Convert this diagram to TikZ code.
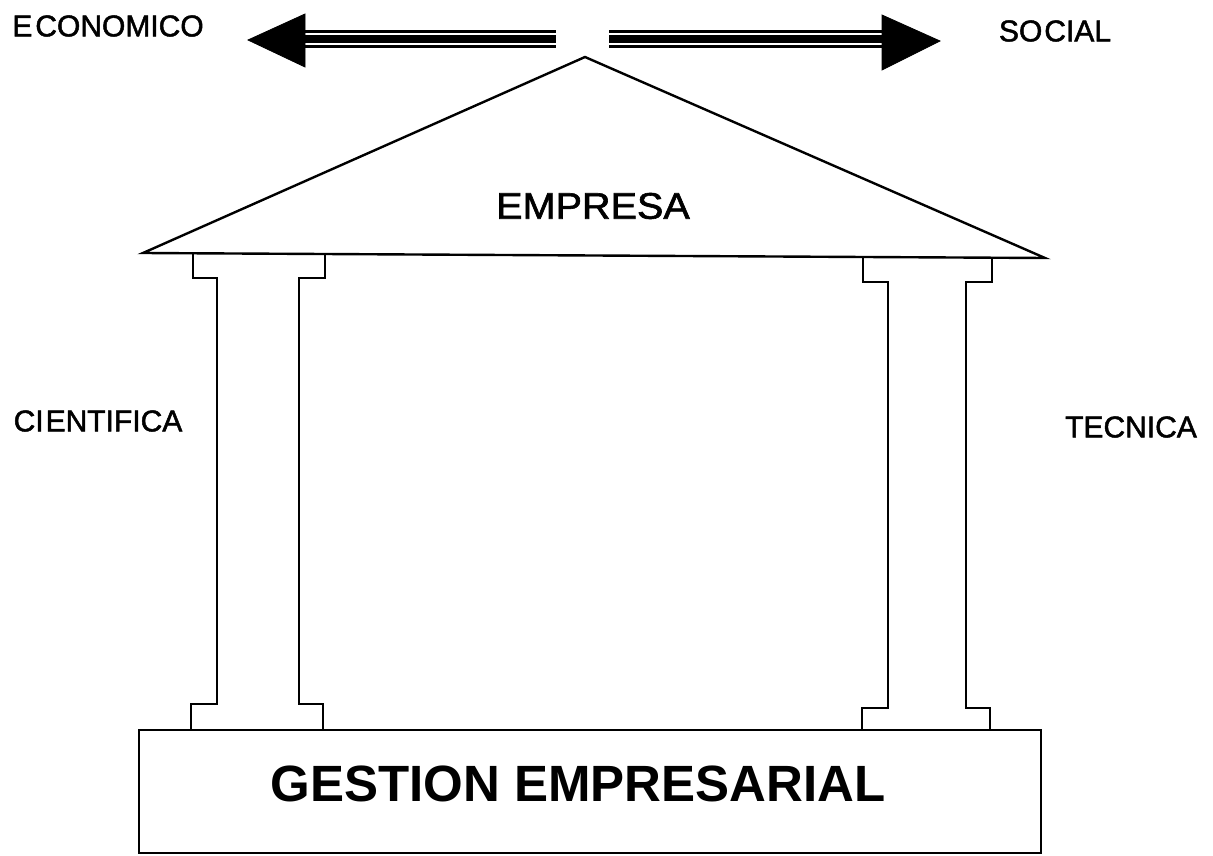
\documentclass[tikz,border=0pt]{standalone}
\usepackage{fontspec}
\setmainfont{Liberation Sans}
\newfontfamily\lblfont[FakeBold=1.6]{Liberation Sans}
\begin{document}
\begin{tikzpicture}[x=1pt,y=-1pt,
  ln/.style={line width=2.4pt,line join=miter},
  lbl/.style={inner sep=0pt,font=\lblfont\fontsize{30}{36}\selectfont},
  head/.style={fill=black,draw=black,line width=0.8pt,line join=miter}]
\useasboundingbox (0,0) rectangle (1213,856);
% arrows
\fill[head] (248,40) -- (305,14) -- (305,67) -- cycle;
\fill (305,30) rectangle (556,32.8);
\fill (305,35) rectangle (556,43);
\fill (305,45.3) rectangle (556,48);
\fill[head] (940,41) -- (882,15) -- (882,70) -- cycle;
\fill (609,30) rectangle (882,32.8);
\fill (609,35) rectangle (882,43);
\fill (609,45.3) rectangle (882,48);
% roof
\draw[ln] (143,253) coordinate (rl) -- (585,57) coordinate (ra) -- (1045,258) coordinate (rr) -- cycle;
% left column
\draw[ln] (193,254) -- (193,278) -- (217,278) -- (217,704) -- (191,704) -- (191,730);
\draw[ln] (325,254) -- (325,278) -- (299,278) -- (299,704) -- (323,704) -- (323,730);
% right column
\draw[ln] (863,257) -- (863,282) -- (888,282) -- (888,708) -- (862,708) -- (862,731);
\draw[ln] (992,257) -- (992,282) -- (966,282) -- (966,708) -- (990,708) -- (990,731);
% base
\draw[ln] (139,730) rectangle (1041,853);
% texts
\node[lbl] (eco) at (108,26) {E\hspace{3pt}CONOMICO};
\node[lbl] (soc) at (1055,31) {SO\hspace{2pt}CIAL};
\node[lbl] (cie) at (98,421) {CI\hspace{2pt}ENTIFICA};
\node[lbl] (tec) at (1131,427) {TECNICA};
\node[inner sep=0pt,font=\lblfont\fontsize{37}{44}\selectfont,xscale=1.07] (emp) at (593,206) {EMPRESA};
\node[inner sep=0pt,font=\fontsize{51}{60}\selectfont\bfseries] (ges) at (578,784) {GESTION EMPRESARIAL};
\end{tikzpicture}
\end{document}
